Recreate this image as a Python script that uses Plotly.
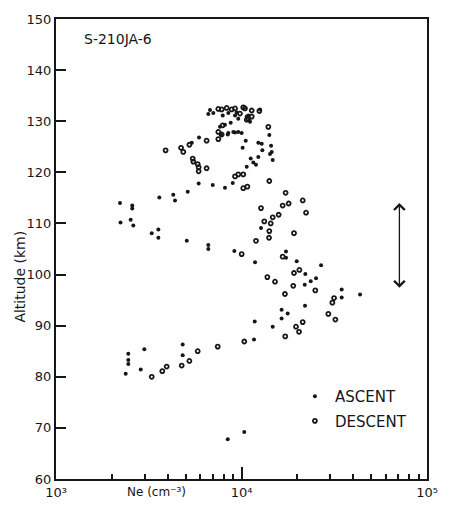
import math
import plotly.graph_objects as go

# ---------------- data ----------------
ASC_NE = [2213, 2577, 2577, 2227, 2527, 2611, 3606, 4288, 4381, 5130, 5875, 6996, 8147,
          3281, 3563, 3563, 5070, 6622, 6622, 9150, 5395, 5902, 7727,
          2375, 2453, 2453, 2453, 2862, 2992, 4819, 4819, 10350, 8431,
          12740, 11830, 17370, 17370, 19850, 26840, 22080, 25220, 23610, 21920,
          34680, 43550, 34680, 22000, 16450, 17740, 16450, 14730, 11780, 11680,
          10540, 12320, 12850, 10140, 14430, 12950, 14550, 14240, 14730, 11210,
          12320, 11580, 11970, 10670, 8967, 14120, 8431, 9229, 10020,
          6761, 6622, 7047, 7922, 8491, 9229, 7656, 8147, 8743, 8491, 9036,
          9420, 10880, 9606, 10670, 11120, 12590, 9606]
ASC_ALT = [114.0, 113.5, 112.9, 110.2, 110.7, 109.6, 115.1, 115.6, 114.5, 116.2, 117.8, 117.5, 117.0,
           108.1, 108.8, 107.2, 106.6, 105.8, 105.0, 104.6, 125.8, 126.8, 127.4,
           80.6, 84.5, 83.3, 82.5, 81.4, 85.4, 86.3, 84.2, 69.2, 67.8,
           109.1, 102.4, 104.5, 103.3, 102.6, 101.8, 100.1, 99.3, 98.7, 98.0,
           97.1, 96.1, 95.5, 93.9, 93.1, 92.4, 91.4, 89.8, 90.8, 87.3,
           126.2, 125.8, 125.6, 124.8, 125.2, 124.3, 124.0, 123.6, 122.4, 122.7,
           123.0, 121.9, 121.5, 121.1, 117.9, 127.3, 127.4, 127.8, 127.7,
           132.2, 131.4, 131.6, 131.1, 131.6, 131.1, 128.9, 129.3, 129.7, 127.7, 127.9,
           131.7, 131.1, 130.5, 130.9, 129.9, 132.3, 127.9]

DES_NE = [3899, 4722, 4856, 5236, 6486, 7500, 5458, 5497, 5807, 5875, 5875, 6486,
          5807, 7445, 3281, 3741, 3951, 4760, 5236,
          14120, 11970, 14070, 19190, 10020, 16670, 20510, 19190, 13780, 15160,
          19010, 24990, 17150, 31550, 30890, 29390, 32060, 21380, 19670, 20430,
          17210, 10350,
          13950, 9229, 9606, 10220, 10220, 10750, 14120, 17290, 21380, 17960,
          16670, 22280, 12740, 15860, 14730, 13270, 14370,
          7500, 7818, 8319, 8853, 9229, 10220, 10440, 11350, 12480, 7922, 7818,
          7500, 9808, 10880, 11350, 10670]
DES_ALT = [124.3, 124.8, 124.0, 125.4, 126.2, 126.5, 122.7, 122.1, 121.6, 121.0, 120.2, 120.8,
           85.0, 85.9, 80.0, 81.1, 82.0, 82.2, 83.1,
           108.5, 106.6, 107.2, 108.1, 104.0, 103.5, 100.9, 100.3, 99.5, 98.6,
           97.8, 96.9, 96.2, 95.4, 94.5, 92.3, 91.2, 90.7, 89.8, 88.8,
           87.9, 86.9,
           128.9, 119.2, 119.6, 119.6, 116.9, 117.2, 118.3, 116.0, 114.5, 113.9,
           113.5, 112.1, 113.0, 111.7, 111.2, 110.4, 110.0,
           132.4, 132.3, 132.6, 132.3, 132.5, 132.7, 132.5, 132.1, 132.0, 129.2, 127.4,
           127.9, 131.5, 130.5, 130.9, 130.3]

X_TICKS = [1e3, 1e4, 1e5]
X_TICK_TEXT = ["10³", "10⁴", "10⁵"]
X_MINOR = [m * 10 ** e for e in (3, 4) for m in range(2, 10)]
Y_TICKS = list(range(60, 151, 10))

ARROW_NE = 7.1e4
ARROW_LOW, ARROW_HIGH = 97.4, 114.3

FONT = "DejaVu Sans"
INK = "#161616"

fig = go.Figure()
fig.add_trace(go.Scatter(
    x=ASC_NE, y=ASC_ALT, mode="markers", name="ASCENT", legendgroup="a",
    marker=dict(symbol="circle", size=4, color=INK),
))
fig.add_trace(go.Scatter(
    x=DES_NE, y=DES_ALT, mode="markers", name="DESCENT", legendgroup="d",
    marker=dict(symbol="circle-open", size=4, color=INK, line=dict(width=1.8, color=INK)),
))

fig.update_layout(
    width=450, height=512,
    margin=dict(l=56, r=23, t=12, b=26),
    paper_bgcolor="white", plot_bgcolor="white",
    font=dict(family=FONT, size=13, color=INK),
    showlegend=True,
    legend=dict(x=0.644, y=0.215, xanchor="left", yanchor="top",
                traceorder="grouped", tracegroupgap=2,
                bgcolor="rgba(0,0,0,0)", font=dict(size=15, family=FONT, color=INK),
                itemwidth=30),
)
fig.update_xaxes(
    type="log", range=[3, 5],
    tickmode="array", tickvals=X_TICKS, ticktext=X_TICK_TEXT,
    ticks="inside", ticklen=12, tickwidth=1.5, tickcolor=INK,
    minor=dict(tickmode="array", tickvals=X_MINOR, ticks="inside", ticklen=5,
               tickwidth=1.5, tickcolor=INK, showgrid=False),
    showline=True, linewidth=2, linecolor=INK, mirror=True,
    showgrid=False, zeroline=False,
    tickfont=dict(size=13, family=FONT, color=INK),
)
fig.update_yaxes(
    range=[60, 150],
    tickmode="array", tickvals=Y_TICKS,
    ticks="inside", ticklen=10, tickwidth=1.5, tickcolor=INK,
    showline=True, linewidth=2, linecolor=INK, mirror=True,
    showgrid=False, zeroline=False,
    tickfont=dict(size=13, family=FONT, color=INK),
)

fig.add_annotation(text="Ne (cm⁻³)", xref="paper", yref="paper",
                   x=0.272, y=0, xanchor="center", yanchor="top", yshift=-4,
                   showarrow=False, font=dict(size=12, family=FONT, color=INK))
fig.add_annotation(text="Altitude (km)", xref="paper", yref="paper",
                   x=-0.097, y=0.44, textangle=-90, xanchor="center", yanchor="middle",
                   showarrow=False, font=dict(size=14, family=FONT, color=INK))
fig.add_annotation(text="S-210JA-6", xref="paper", yref="paper",
                   x=0.07, y=0.956, xanchor="left", yanchor="middle",
                   showarrow=False, font=dict(size=14, family=FONT, color=INK))
fig.add_annotation(text="", xref="x", yref="y", axref="x", ayref="y",
                   x=math.log10(ARROW_NE), y=ARROW_LOW,
                   ax=math.log10(ARROW_NE), ay=ARROW_HIGH,
                   showarrow=True, arrowside="end+start", arrowhead=4, arrowsize=1.6,
                   arrowwidth=1.3, arrowcolor=INK, standoff=0, startstandoff=0,
                   startarrowhead=4, startarrowsize=1.6)

fig.write_html(
    "out.html",
    config={"displayModeBar": False},
    post_script="document.body.style.margin='0';document.body.style.overflow='hidden';",
)
